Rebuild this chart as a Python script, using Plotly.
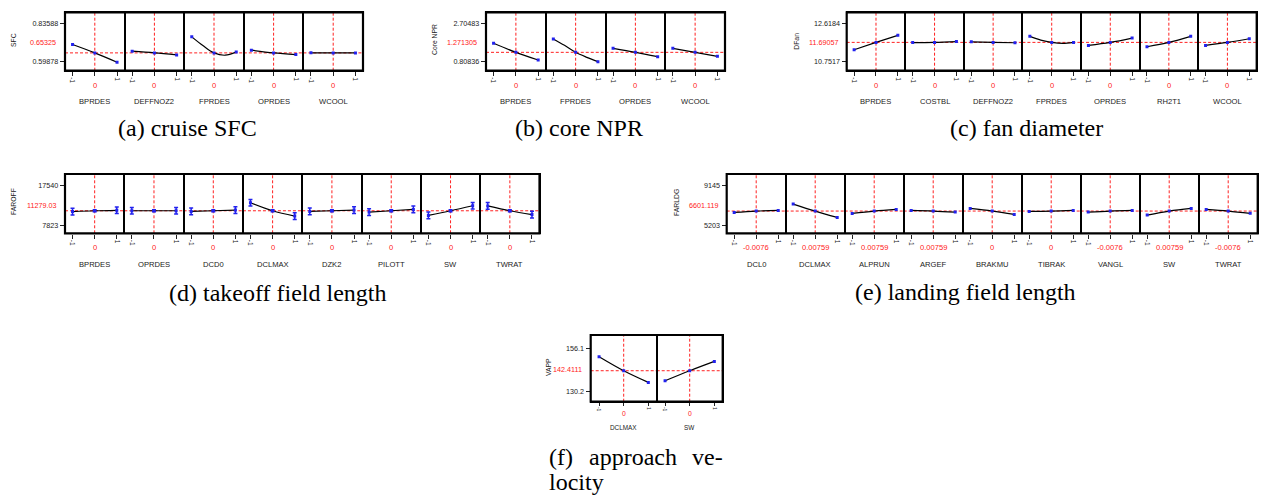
import plotly.graph_objects as go

W, H = 1263, 495

# ---------------- data ----------------
PROFILE_X3 = [-1, 0, 1]
PROFILE_X5 = [-1, -0.5, 0, 0.5, 1]

# (a) cruise SFC
sfc_factors = ["BPRDES", "DEFFNOZ2", "FPRDES", "OPRDES", "WCOOL"]
sfc_profiles = [
    [0.7048, 0.65325, 0.5955],
    [0.6636, 0.65325, 0.6409],
    [0.7522, 0.6986, 0.65325, 0.6388, 0.6594],
    [0.6697, 0.65325, 0.6429],
    [0.6536, 0.65325, 0.6532],
]
sfc_current = 0.65325
sfc_current_label = "0.65325"
sfc_ticks = [0.83588, 0.59878]
sfc_ticklabels = ["0.83588", "0.59878"]
sfc_centers = ["0", "0", "0", "0", "0"]

# (b) core NPR
npr_factors = ["BPRDES", "FPRDES", "OPRDES", "WCOOL"]
npr_profiles = [
    [1.716, 1.271305, 0.892],
    [1.931, 1.617, 1.271305, 1.024, 0.810],
    [1.469, 1.271305, 1.057],
    [1.469, 1.271305, 1.073],
]
npr_current = 1.271305
npr_current_label = "1.271305"
npr_ticks = [2.70483, 0.80836]
npr_ticklabels = ["2.70483", "0.80836"]
npr_centers = ["0", "0", "0", "0"]

# (c) fan diameter
dfan_factors = ["BPRDES", "COSTBL", "DEFFNOZ2", "FPRDES", "OPRDES", "RH2T1", "WCOOL"]
dfan_profiles = [
    [11.3335, 11.69057, 12.0315],
    [11.68, 11.69057, 11.73],
    [11.72, 11.69057, 11.674],
    [11.983, 11.804, 11.69057, 11.642, 11.69],
    [11.545, 11.69057, 11.902],
    [11.480, 11.69057, 11.983],
    [11.545, 11.69057, 11.869],
]
dfan_current = 11.69057
dfan_current_label = "11.69057"
dfan_ticks = [12.6184, 10.7517]
dfan_ticklabels = ["12.6184", "10.7517"]
dfan_centers = ["0"] * 7

# (d) takeoff field length
faroff_factors = ["BPRDES", "OPRDES", "DCD0", "DCLMAX", "DZK2", "PILOTT", "SW", "TWRAT"]
faroff_profiles = [
    [11080, 11279.03, 11400],
    [11279, 11279.03, 11279],
    [11117, 11279.03, 11441],
    [13222, 11279.03, 9984],
    [11117, 11279.03, 11441],
    [10955, 11279.03, 11603],
    [10145, 11279.03, 12494],
    [12450, 11279.03, 10350],
]
faroff_err = [810, 240, 810]
faroff_current = 11279.03
faroff_current_label = "11279.03"
faroff_ticks = [17540, 7823]
faroff_ticklabels = ["17540", "7823"]
faroff_centers = ["0"] * 8

# (e) landing field length
farldg_factors = ["DCL0", "DCLMAX", "ALPRUN", "ARGEF", "BRAKMU", "TIBRAK", "VANGL", "SW", "TWRAT"]
farldg_profiles = [
    [6467, 6601.119, 6668],
    [7303, 6601.119, 5967],
    [6367, 6601.119, 6768],
    [6668, 6601.119, 6501],
    [6868, 6601.119, 6267],
    [6568, 6601.119, 6668],
    [6501, 6601.119, 6668],
    [6200, 6601.119, 6868],
    [6763, 6601.119, 6375],
]
farldg_current = 6601.119
farldg_current_label = "6601.119"
farldg_ticks = [9145, 5203]
farldg_ticklabels = ["9145", "5203"]
farldg_centers = ["-0.0076", "0.00759", "0.00759", "0.00759", "0", "0", "-0.0076", "0.00759", "-0.0076"]

# (f) approach velocity
vapp_factors = ["DCLMAX", "SW"]
vapp_profiles = [
    [150.84, 142.4111, 135.38],
    [136.39, 142.4111, 148.03],
]
vapp_current = 142.4111
vapp_current_label = "142.4111"
vapp_ticks = [156.1, 130.2]
vapp_ticklabels = ["156.1", "130.2"]
vapp_centers = ["0", "0"]

# ---------------- layout geometry (pixels) ----------------
groups = [
    dict(title="SFC", factors=sfc_factors, profiles=sfc_profiles, current=sfc_current,
         clabel=sfc_current_label, ticks=sfc_ticks, ticklabels=sfc_ticklabels, centers=sfc_centers,
         err=None, box=(65, 12.3, 363, 70.7), tickpx=(23.3, 61.7), title_xy=(14, 40),
         caption="(a) cruise SFC", cap_xy=(187.5, 128.3), small=False),
    dict(title="Core NPR", factors=npr_factors, profiles=npr_profiles, current=npr_current,
         clabel=npr_current_label, ticks=npr_ticks, ticklabels=npr_ticklabels, centers=npr_centers,
         err=None, box=(486, 12.3, 725, 70.7), tickpx=(23.3, 61.7), title_xy=(435, 40),
         caption="(b) core NPR", cap_xy=(579.2, 128.3), small=False),
    dict(title="DFan", factors=dfan_factors, profiles=dfan_profiles, current=dfan_current,
         clabel=dfan_current_label, ticks=dfan_ticks, ticklabels=dfan_ticklabels, centers=dfan_centers,
         err=None, box=(846.7, 12.3, 1256.7, 70.7), tickpx=(23.3, 61.7), title_xy=(796.7, 41),
         caption="(c) fan diameter", cap_xy=(1026.7, 128.3), small=False),
    dict(title="FAROFF", factors=faroff_factors, profiles=faroff_profiles, current=faroff_current,
         clabel=faroff_current_label, ticks=faroff_ticks, ticklabels=faroff_ticklabels, centers=faroff_centers,
         err=faroff_err, box=(65, 174, 539.5, 233.3), tickpx=(185, 225), title_xy=(14, 202),
         caption="(d) takeoff field length", cap_xy=(277.5, 293.3), small=False),
    dict(title="FARLDG", factors=farldg_factors, profiles=farldg_profiles, current=farldg_current,
         clabel=farldg_current_label, ticks=farldg_ticks, ticklabels=farldg_ticklabels, centers=farldg_centers,
         err=None, box=(726.7, 174, 1257.7, 233.3), tickpx=(185.7, 225), title_xy=(676, 203),
         caption="(e) landing field length", cap_xy=(965.8, 291.7), small=False),
    dict(title="VAPP", factors=vapp_factors, profiles=vapp_profiles, current=vapp_current,
         clabel=vapp_current_label, ticks=vapp_ticks, ticklabels=vapp_ticklabels, centers=vapp_centers,
         err=None, box=(590.7, 335, 722.7, 401.7), tickpx=(348, 391), title_xy=(548.3, 366.7),
         caption=None, cap_xy=None, small=True),
]

SANS = "Liberation Sans, Arial, sans-serif"
SERIF = "Liberation Serif, Times New Roman, serif"
RED = "#FF2020"
LBL = "#222222"
XR = 1.34


def px(x):
    return x / W


def py(y):
    return 1 - y / H


fig = go.Figure()
layout = dict(width=W, height=H, margin=dict(l=0, r=0, t=0, b=0),
              paper_bgcolor="white", plot_bgcolor="white", showlegend=False)
shapes, annotations = [], []

idx = 0
for g in groups:
    L, T, R, B = g["box"]
    n = len(g["factors"])
    t_top, t_bot = g["ticks"]
    p_top, p_bot = g["tickpx"]
    k = (t_top - t_bot) / (p_bot - p_top)
    ymax = t_top + (p_top - T) * k
    ymin = t_bot - (B - p_bot) * k
    small = g["small"]
    tick_fs = 7.2
    name_fs = 6.4 if small else 7.6
    cen_fs = 6.8 if small else 7.6
    xt_fs = 5.0 if small else 6.5
    name_off = 25.7 if small else 31
    cen_off = 11.7 if small else 14.5
    first = None
    for j, (fac, prof) in enumerate(zip(g["factors"], g["profiles"])):
        idx += 1
        xs = "x" if idx == 1 else f"x{idx}"
        ys = "y" if idx == 1 else f"y{idx}"
        xa = "xaxis" if idx == 1 else f"xaxis{idx}"
        ya = "yaxis" if idx == 1 else f"yaxis{idx}"
        if first is None:
            first = ys
        x0 = L + j * (R - L) / n
        x1 = L + (j + 1) * (R - L) / n
        layout[xa] = dict(domain=[px(x0), px(x1)], anchor=ys, range=[-XR, XR],
                          showgrid=False, zeroline=False, showline=True, mirror=True,
                          linecolor="black", linewidth=1.4,
                          ticks="outside", ticklen=4 if not small else 3, tickwidth=1, tickcolor="#222",
                          tickvals=[-1, 0, 1], ticktext=["-1", "", "1"], tickangle=90,
                          tickfont=dict(family=SANS, size=xt_fs, color=LBL), fixedrange=True)
        yd = dict(domain=[py(B), py(T)], anchor=xs, range=[ymin, ymax],
                  showgrid=False, zeroline=False, showline=True, mirror=True,
                  linecolor="black", linewidth=1.4, fixedrange=True)
        if j == 0:
            yd.update(ticks="outside", ticklen=4, tickwidth=1, tickcolor="#222",
                      tickvals=g["ticks"], ticktext=g["ticklabels"],
                      tickfont=dict(family=SANS, size=tick_fs, color=LBL))
        else:
            yd.update(ticks="", showticklabels=False)
        layout[ya] = yd

        # reference lines
        shapes.append(dict(type="line", xref=f"{xs} domain", x0=0, x1=1, yref=ys,
                           y0=g["current"], y1=g["current"], layer="below",
                           line=dict(color=RED, width=1, dash="3px,2px")))
        shapes.append(dict(type="line", xref=xs, x0=0, x1=0, yref=f"{ys} domain",
                           y0=0, y1=1, layer="below",
                           line=dict(color=RED, width=1, dash="3px,2px")))

        pxs = PROFILE_X3 if len(prof) == 3 else PROFILE_X5
        fig.add_trace(go.Scatter(x=pxs, y=prof, mode="lines", xaxis=xs, yaxis=ys,
                                 line=dict(color="black", width=1.2, shape="spline"),
                                 hoverinfo="skip"))
        mx = [pxs[0], pxs[len(pxs) // 2], pxs[-1]]
        my = [prof[0], prof[len(prof) // 2], prof[-1]]
        mk = dict(x=mx, y=my, mode="markers", xaxis=xs, yaxis=ys,
                  marker=dict(symbol="square", size=3, color="#2222EE"), hoverinfo="skip")
        if g["err"] is not None:
            mk["error_y"] = dict(type="data", array=g["err"], visible=True,
                                 color="#2222EE", thickness=1.5, width=2)
        fig.add_trace(go.Scatter(**mk))

        # center (red) label and factor name
        annotations.append(dict(x=0, xref=xs, y=py(B + cen_off), yref="paper",
                                text=g["centers"][j], showarrow=False, xanchor="center", yanchor="middle",
                                font=dict(family=SANS, size=cen_fs, color=RED)))
        annotations.append(dict(x=0, xref=xs, y=py(B + name_off), yref="paper",
                                text=fac, showarrow=False, xanchor="center", yanchor="middle",
                                font=dict(family=SANS, size=name_fs, color=LBL)))

    # current value label (red), midway between top/bottom tick labels
    annotations.append(dict(x=px(L - 7), xref="paper", y=(t_top + t_bot) / 2, yref=first,
                            text=g["clabel"], showarrow=False, xanchor="right", yanchor="middle",
                            font=dict(family=SANS, size=tick_fs, color=RED)))
    # y title
    annotations.append(dict(x=px(g["title_xy"][0]), xref="paper", y=py(g["title_xy"][1]), yref="paper",
                            text=g["title"], textangle=-90, showarrow=False,
                            xanchor="center", yanchor="middle",
                            font=dict(family=SANS, size=6.8, color=LBL)))
    # outer frame
    shapes.append(dict(type="rect", xref="paper", yref="paper", x0=px(L), x1=px(R),
                       y0=py(B), y1=py(T), line=dict(color="black", width=2.2), layer="above"))
    if g["caption"]:
        annotations.append(dict(x=px(g["cap_xy"][0]), xref="paper", y=py(g["cap_xy"][1]), yref="paper",
                                text=g["caption"], showarrow=False, xanchor="center", yanchor="middle",
                                font=dict(family=SERIF, size=24, color="black")))

# caption (f), justified over two lines
for txt, xl, anchor in [("(f)", 546.7, "left"), ("approach", 586.7, "left"), ("ve-", 725, "right")]:
    annotations.append(dict(x=px(xl), xref="paper", y=py(456.7), yref="paper", text=txt,
                            showarrow=False, xanchor=anchor, yanchor="middle",
                            font=dict(family=SERIF, size=24, color="black")))
annotations.append(dict(x=px(546.7), xref="paper", y=py(481.7), yref="paper", text="locity",
                        showarrow=False, xanchor="left", yanchor="middle",
                        font=dict(family=SERIF, size=24, color="black")))

layout["shapes"] = shapes
layout["annotations"] = annotations
fig.update_layout(**layout)
fig.write_html("out.html", config={"displayModeBar": False},
               post_script="document.body.style.margin='0px';")
